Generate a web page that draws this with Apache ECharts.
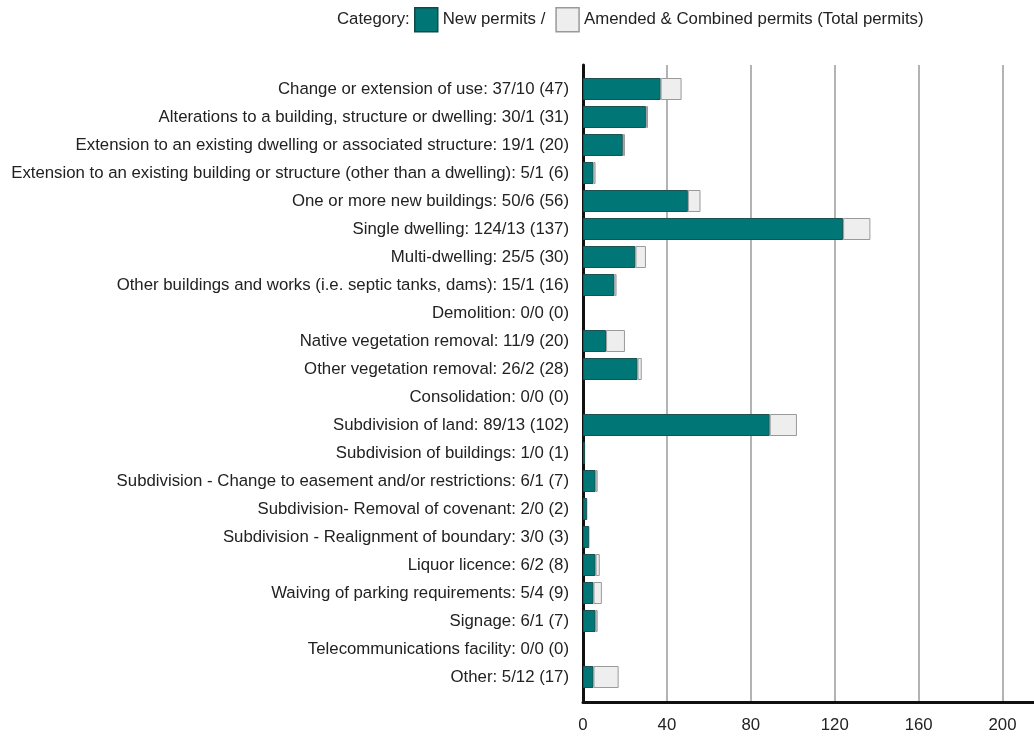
<!doctype html>
<html>
<head>
<meta charset="utf-8">
<script src="https://cdn.jsdelivr.net/npm/echarts@6/dist/echarts.min.js"></script>
<style>
  html, body { margin:0; padding:0; background:#fff; }
  #chart { width:1034px; height:736px; }
</style>
</head>
<body>
<div id="chart"></div>
<script>
// permit categories, top to bottom
const categories = [
  'Change or extension of use',
  'Alterations to a building, structure or dwelling',
  'Extension to an existing dwelling or associated structure',
  'Extension to an existing building or structure (other than a dwelling)',
  'One or more new buildings',
  'Single dwelling',
  'Multi-dwelling',
  'Other buildings and works (i.e. septic tanks, dams)',
  'Demolition',
  'Native vegetation removal',
  'Other vegetation removal',
  'Consolidation',
  'Subdivision of land',
  'Subdivision of buildings',
  'Subdivision - Change to easement and/or restrictions',
  'Subdivision- Removal of covenant',
  'Subdivision - Realignment of boundary',
  'Liquor licence',
  'Waiving of parking requirements',
  'Signage',
  'Telecommunications facility',
  'Other'
];
const newPermits     = [37, 30, 19, 5, 50, 124, 25, 15, 0, 11, 26, 0, 89, 1, 6, 2, 3, 6, 5, 6, 0, 5];
const amendedPermits = [10,  1,  1, 1,  6,  13,  5,  1, 0,  9,  2, 0, 13, 0, 1, 0, 0, 2, 4, 1, 0, 12];
const xTicks = [0, 40, 80, 120, 160, 200];

const labels = categories.map((c, i) =>
  `${c}: ${newPermits[i]}/${amendedPermits[i]} (${newPermits[i] + amendedPermits[i]})`);

const TEAL = '#007676', LIGHT = '#eeeeee';
const FONT = 'Arial, "Liberation Sans", sans-serif';
const FS = 16.8;
const XMAX = 215;

// zero-length bars should not leave a border sliver
const barData = (vals, border) => vals.map(v =>
  v === 0 ? { value: v, itemStyle: { borderWidth: 0 } } : { value: v, itemStyle: { borderWidth: border } });

const chart = echarts.init(document.getElementById('chart'));
chart.setOption({
  animation: false,
  textStyle: { fontFamily: FONT },
  title: {
    text: 'Category:', left: 337, top: 11, padding: 0,
    textStyle: { fontSize: FS, fontWeight: 'normal', color: '#222', fontFamily: FONT }
  },
  legend: {
    left: 414, top: 7, padding: 0,
    itemWidth: 23, itemHeight: 24, itemGap: 10,
    icon: 'rect',
    textStyle: { fontSize: FS, color: '#222', fontFamily: FONT },
    data: [
      { name: 'New permits /', itemStyle: { color: TEAL, borderColor: '#0e4a4a', borderWidth: 1.5 } },
      { name: 'Amended & Combined permits (Total permits)', itemStyle: { color: LIGHT, borderColor: '#999', borderWidth: 1.5 } }
    ]
  },
  grid: [
    { left: 583, top: 75, width: 451, height: 616 },   // bars
    { left: 583, top: 65, width: 451, bottom: 34 }     // frame + ticks
  ],
  xAxis: [
    { gridIndex: 0, type: 'value', min: 0, max: XMAX, show: false },
    {
      gridIndex: 1, type: 'value', min: 0, max: XMAX, interval: 40,
      axisLine: { show: true, lineStyle: { color: '#111', width: 3 } },
      axisTick: { show: false },
      axisLabel: {
        fontSize: FS, color: '#222', margin: 15, showMaxLabel: false,
        formatter: v => xTicks.includes(v) ? String(v) : ''
      },
      splitLine: { show: true, showMaxLine: false, lineStyle: { color: '#b3b3b3', width: 2 } }
    }
  ],
  yAxis: [
    {
      gridIndex: 0, type: 'category', inverse: true, data: labels,
      axisLine: { show: false }, axisTick: { show: false },
      axisLabel: { fontSize: FS, color: '#222', margin: 14 }
    },
    {
      gridIndex: 1, type: 'value', min: 0, max: 1,
      axisLine: { show: true, lineStyle: { color: '#111', width: 3 } },
      axisTick: { show: false }, axisLabel: { show: false }, splitLine: { show: false }
    }
  ],
  series: [
    {
      name: 'New permits /', type: 'bar', stack: 'total',
      xAxisIndex: 0, yAxisIndex: 0, barWidth: 22,
      itemStyle: { color: TEAL, borderColor: '#1d5252' },
      data: barData(newPermits, 1)
    },
    {
      name: 'Amended & Combined permits (Total permits)', type: 'bar', stack: 'total',
      xAxisIndex: 0, yAxisIndex: 0, barWidth: 22,
      itemStyle: { color: LIGHT, borderColor: '#9a9a9a' },
      data: barData(amendedPermits, 1)
    }
  ]
});
</script>
</body>
</html>
